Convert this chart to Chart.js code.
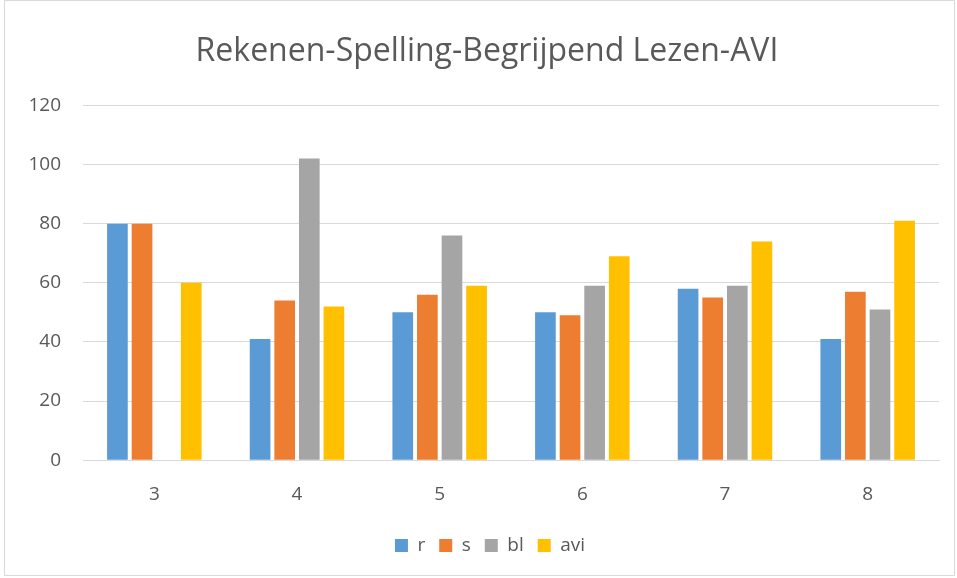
<!DOCTYPE html>
<html>
<head>
<meta charset="utf-8">
<script src="https://cdn.jsdelivr.net/npm/chart.js@4/dist/chart.umd.min.js"></script>
<style>
  html, body { margin: 0; padding: 0; background: #fff; }
  #wrap {
    position: absolute; left: 4px; top: 0; width: 951px; height: 576px;
    border: 1px solid #d9d9d9; box-sizing: border-box;
  }
  canvas { position: absolute; left: 0; top: 0; }
</style>
</head>
<body>
<div id="wrap"><canvas id="chart" width="951" height="576"></canvas></div>
<script>
// data
const groups = ['3', '4', '5', '6', '7', '8'];
const rVals = [80, 41, 50, 50, 58, 41];
const sVals = [80, 54, 56, 49, 55, 57];
const blVals = [null, 102, 76, 59, 59, 51];
const aviVals = [60, 52, 59, 69, 74, 81];
const seriesNames = ['r', 's', 'bl', 'avi'];
const seriesColors = ['#5b9bd5', '#ed7d31', '#a5a5a5', '#ffc000'];

const txt = '#595959';
const font = '"Open Sans", "Liberation Sans", sans-serif';

const allVals = [rVals, sVals, blVals, aviVals];
const datasets = seriesNames.map((name, i) => ({
  label: name,
  data: allVals[i],
  backgroundColor: seriesColors[i],
  borderWidth: 0,
  barPercentage: 0.84,
  categoryPercentage: 0.69
}));

// title and legend sit centred over the plot area, not the whole canvas
const shiftBlocks = {
  id: 'shiftBlocks',
  afterLayout(chart) {
    if (chart.titleBlock) { chart.titleBlock.left += 15; chart.titleBlock.right += 15; }
    if (chart.legend) { chart.legend.left += 18; chart.legend.right += 18; }
  }
};

new Chart(document.getElementById('chart').getContext('2d'), {
  type: 'bar',
  data: { labels: groups, datasets: datasets },
  plugins: [shiftBlocks],
  options: {
    responsive: false,
    animation: false,
    layout: { padding: { left: 0, right: 17, top: 32, bottom: 12 } },
    plugins: {
      title: {
        display: true,
        text: 'Rekenen-Spelling-Begrijpend Lezen-AVI',
        color: txt,
        font: { family: font, size: 32, weight: 'normal' },
        padding: { top: 0, bottom: 34 }
      },
      legend: {
        position: 'bottom',
        labels: {
          color: txt,
          font: { family: font, size: 19 },
          boxWidth: 13,
          boxHeight: 13,
          padding: 14
        }
      },
      tooltip: { enabled: false }
    },
    scales: {
      x: {
        grid: { display: false, drawTicks: false },
        border: { color: '#d9d9d9', width: 1 },
        ticks: { color: txt, font: { family: font, size: 19 }, padding: 23 },
        afterFit: (axis) => { axis.height = axis.height - 7; }
      },
      y: {
        min: 0,
        max: 120,
        ticks: { stepSize: 20, color: txt, font: { family: font, size: 19 }, padding: 22 },
        grid: { color: '#d9d9d9', lineWidth: 1, drawTicks: false },
        border: { display: false },
        afterFit: (axis) => { axis.width = 78; }
      }
    }
  }
});
</script>
</body>
</html>
